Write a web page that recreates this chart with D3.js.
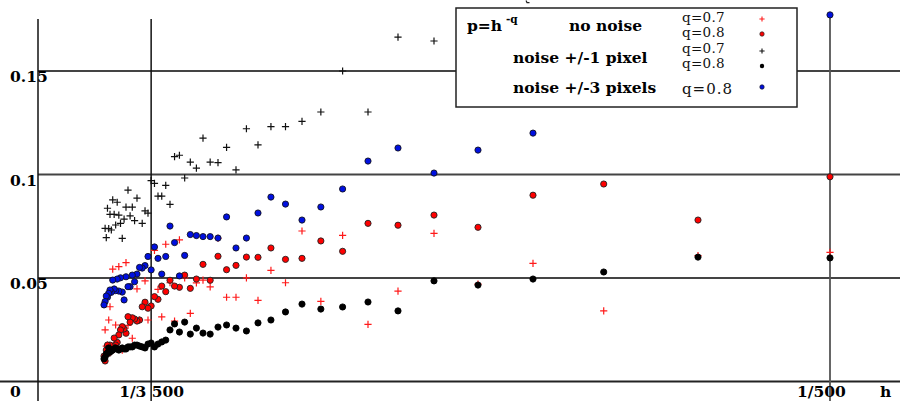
<!DOCTYPE html>
<html><head><meta charset="utf-8">
<script src="https://cdn.jsdelivr.net/npm/d3@7"></script>
<style>body{margin:0;background:#fff}svg{display:block}</style>
</head><body>
<script>
// image sizes n, h = 1/n
const nValues = [500,600,700,800,900,1000,1100,1200,1300,1400,1500,1600,1700,1800,1900,2000,2100,2200,2300,2400,2500,2600,2700,2800,2900,3000,3100,3200,3300,3400,3500,3600,3700,3800,3900,4000,4100,4200,4300,4400,4500,4600,4700,4800,4900,5000,5100,5200,5300,5400,5500,5600,5700,5800,5900,6000];
// no noise, q=0.7 (red crosses)
const noNoiseQ07 = [.0624,.0608,.0341,.0571,.0470,.0716,.0437,.0276,.0706,.0387,
 .0727,.0477,.0537,.0392,.0501,.0407,.0407,.0692,.0457,.0490,
 .0476,.0329,.0501,.0684,.0292,.0477,.0663,.0312,.0445,.0633,
 null,.0297,.0486,null,.0297,.0447,null,.0209,null,.0271,
 .0574,null,.0152,null,.0555,.0162,.0273,.0185,.0543,.0168,
 .0361,.0297,.0176,.0171,.0249,null];
// no noise, q=0.8 (red dots)
const noNoiseQ08 = [.0989,.0780,.0954,.0900,.0745,.0804,.0755,.0764,.0629,.0679,
 .0595,.0590,.0645,.0600,.0601,.0561,.0540,.0605,.0489,.0566,
 .0495,.0450,.0514,.0455,.0461,.0489,.0434,.0461,.0397,.0410,
 .0365,.0354,.0383,.0361,.0297,.0292,.0302,.0308,.0287,.0313,
 .0233,.0254,.0265,.0249,.0225,.0189,.0176,.0210,.0168,.0147,
 .0176,.0136,.0176,.0152,.0099,.0123];
// noise +/-1 pixel, q=0.7 (black crosses)
const noise1Q07 = [null,null,null,null,null,.1645,.1664,.1302,.1500,.1302,
 .1257,.1231,.1231,.1143,.1221,.1022,.1131,.1057,.1060,.1176,
 .1031,.1060,.0983,.1093,.1086,.0856,.0947,.0896,.0896,.0957,
 .0970,.0813,.0824,.0764,null,.0886,.0777,.0842,.0800,.0925,
 .0842,.0784,.0691,.0764,.0804,.0866,.0756,.0807,.0877,.0732,
 .0807,.0739,.0837,.0695,.0740,null];
// noise +/-1 pixel, q=0.8 (black dots)
const noise1Q08 = [.0597,.0601,.0529,.0495,.0466,.0486,.0341,.0384,.0360,.0350,
 .0374,.0336,.0297,.0283,.0244,.0258,.0273,.0263,.0229,.0234,
 .0258,.0229,.0287,.0239,.0278,.0249,.0200,.0191,.0181,.0167,
 .0186,.0181,.0162,.0167,.0171,.0176,.0176,.0167,.0167,.0167,
 .0157,.0157,.0162,.0157,.0152,.0157,.0162,.0157,.0152,.0152,
 .0143,.0162,.0138,.0133,.0118,.0109];
// noise +/-3 pixels, q=0.8 (blue dots)
const noise3Q08 = [.1771,null,null,.1200,.1118,.1007,.1128,.1065,.0930,.0843,
 .0780,.0857,.0891,.0814,.0693,.0645,.0795,.0693,.0700,.0700,
 .0705,.0710,.0609,.0510,.0671,.0751,.0604,.0519,.0595,.0650,
 .0539,.0604,.0560,.0548,.0551,.0519,.0482,.0514,.0458,.0458,
 .0506,.0394,.0432,.0501,.0437,.0495,.0439,.0447,.0490,.0431,
 .0442,.0426,.0407,.0413,.0386,.0370];

const yTicks = [0.05, 0.1, 0.15];
const yTickLabels = ["0.05", "0.1", "0.15"];
const xMarkN = [3500, 500];
const xMarkLabels = ["1/3 500", "1/500"];

const W = 900, H = 401;
const svg = d3.select("body").append("svg").attr("width", W).attr("height", H);
const x = d3.scaleLinear().domain([0, 1/500]).range([38, 830]);
const y = d3.scaleLinear().domain([0, 0.15]).range([381.5, 71]);
const font = "'DejaVu Serif', serif";

// horizontal grid lines
svg.selectAll(".hg").data(yTicks).join("line")
  .attr("x1", x(0)).attr("x2", W).attr("y1", d => y(d)).attr("y2", d => y(d))
  .attr("stroke", "#444").attr("stroke-width", 1.8);
// bottom axis
svg.append("line").attr("x1", 0).attr("x2", W).attr("y1", y(0)).attr("y2", y(0))
  .attr("stroke", "#222").attr("stroke-width", 1.8);
// vertical axis at 0
svg.append("line").attr("x1", x(0)).attr("x2", x(0)).attr("y1", 19).attr("y2", H)
  .attr("stroke", "#111").attr("stroke-width", 1.5);
// vertical marks
svg.selectAll(".vg").data(xMarkN).join("line")
  .attr("x1", d => x(1/d)).attr("x2", d => x(1/d))
  .attr("y1", (d,i) => i === 0 ? 19 : 15).attr("y2", H)
  .attr("stroke", (d,i) => i === 0 ? "#111" : "#555").attr("stroke-width", (d,i) => i === 0 ? 1.5 : 1.8);

// y labels
svg.selectAll(".yl").data(yTicks).join("text")
  .attr("x", 10).attr("y", d => y(d) + 11)
  .attr("font-family", font).attr("font-weight", "bold").attr("font-size", 15.5)
  .text((d,i) => yTickLabels[i]);
svg.append("text").attr("x", 10).attr("y", 397)
  .attr("font-family", font).attr("font-weight", "bold").attr("font-size", 15.5).text("0");
// x labels
svg.selectAll(".xl").data(xMarkN).join("text")
  .attr("x", (d,i) => x(1/d) + (i === 0 ? -32 : -33)).attr("y", 397)
  .attr("font-family", font).attr("font-weight", "bold").attr("font-size", 15.5)
  .text((d,i) => xMarkLabels[i]);
svg.append("text").attr("x", 880).attr("y", 397)
  .attr("font-family", font).attr("font-weight", "bold").attr("font-size", 15.5).text("h");

// small fragment of a cut-off mark at the top edge
svg.append("path").attr("d", "M526,0.5L527,2.6L529.5,2.6").attr("stroke", "#222")
  .attr("stroke-width", 1.2).attr("fill", "none");

function pts(arr) {
  return nValues.map((n, i) => ({n, v: arr[i]})).filter(d => d.v !== null);
}
const crossPath = a => `M${-a},0H${a}M0,${-a}V${a}`;
function crosses(arr, color) {
  svg.append("g").selectAll("path").data(pts(arr)).join("path")
    .attr("transform", d => `translate(${x(1/d.n)},${y(d.v)})`)
    .attr("d", crossPath(3.6)).attr("stroke", color).attr("stroke-width", 1.2).attr("fill", "none");
}
function dots(arr, fill, stroke) {
  svg.append("g").selectAll("circle").data(pts(arr)).join("circle")
    .attr("cx", d => x(1/d.n)).attr("cy", d => y(d.v)).attr("r", 3.1)
    .attr("fill", fill).attr("stroke", stroke).attr("stroke-width", 0.9);
}
crosses(noNoiseQ07, "#ff1a1a");
dots(noNoiseQ08, "#ff0000", "#222");
crosses(noise1Q07, "#111");
dots(noise3Q08, "#0010e0", "#112");
dots(noise1Q08, "#000", "#000");

// legend
const lg = svg.append("g");
lg.append("rect").attr("x", 456).attr("y", 8).attr("width", 341).attr("height", 99)
  .attr("fill", "#fff").attr("stroke", "#222").attr("stroke-width", 1.5);
const bold = (t, xx, yy, fs) => lg.append("text").attr("x", xx).attr("y", yy)
  .attr("font-family", font).attr("font-weight", "bold").attr("font-size", fs).text(t);
bold("p=h", 467, 31, 15.5);
lg.append("text").attr("x", 506).attr("y", 23).attr("font-family", font)
  .attr("font-weight", "bold").attr("font-size", 10.5).text("-q");
bold("no noise", 569, 31, 15.5);
bold("noise +/-1 pixel", 513, 63, 15.5);
bold("noise +/-3 pixels", 513, 93, 15.5);
const reg = (t, xx, yy, fs, ls) => lg.append("text").attr("x", xx).attr("y", yy)
  .attr("font-family", font).attr("font-size", fs).attr("letter-spacing", ls).attr("fill", "#111").text(t);
reg("q=0.7", 682, 22, 13.5, 0.3);
reg("q=0.8", 682, 37, 13.5, 0.3);
reg("q=0.7", 682, 53, 13.5, 0.3);
reg("q=0.8", 682, 68, 13.5, 0.3);
reg("q=0.8", 682, 94, 15, 1);
lg.append("path").attr("d", crossPath(2.6)).attr("transform", "translate(762,19)")
  .attr("stroke", "#ff1a1a").attr("stroke-width", 1.1);
lg.append("circle").attr("cx", 762).attr("cy", 34).attr("r", 2.2).attr("fill", "#ff0000").attr("stroke", "#222").attr("stroke-width", 0.7);
lg.append("path").attr("d", crossPath(2.6)).attr("transform", "translate(762,51)")
  .attr("stroke", "#111").attr("stroke-width", 1.1);
lg.append("circle").attr("cx", 762).attr("cy", 66).attr("r", 2.2).attr("fill", "#000");
lg.append("circle").attr("cx", 762).attr("cy", 87).attr("r", 2.2).attr("fill", "#0010e0").attr("stroke", "#112").attr("stroke-width", 0.7);
</script>
</body></html>
